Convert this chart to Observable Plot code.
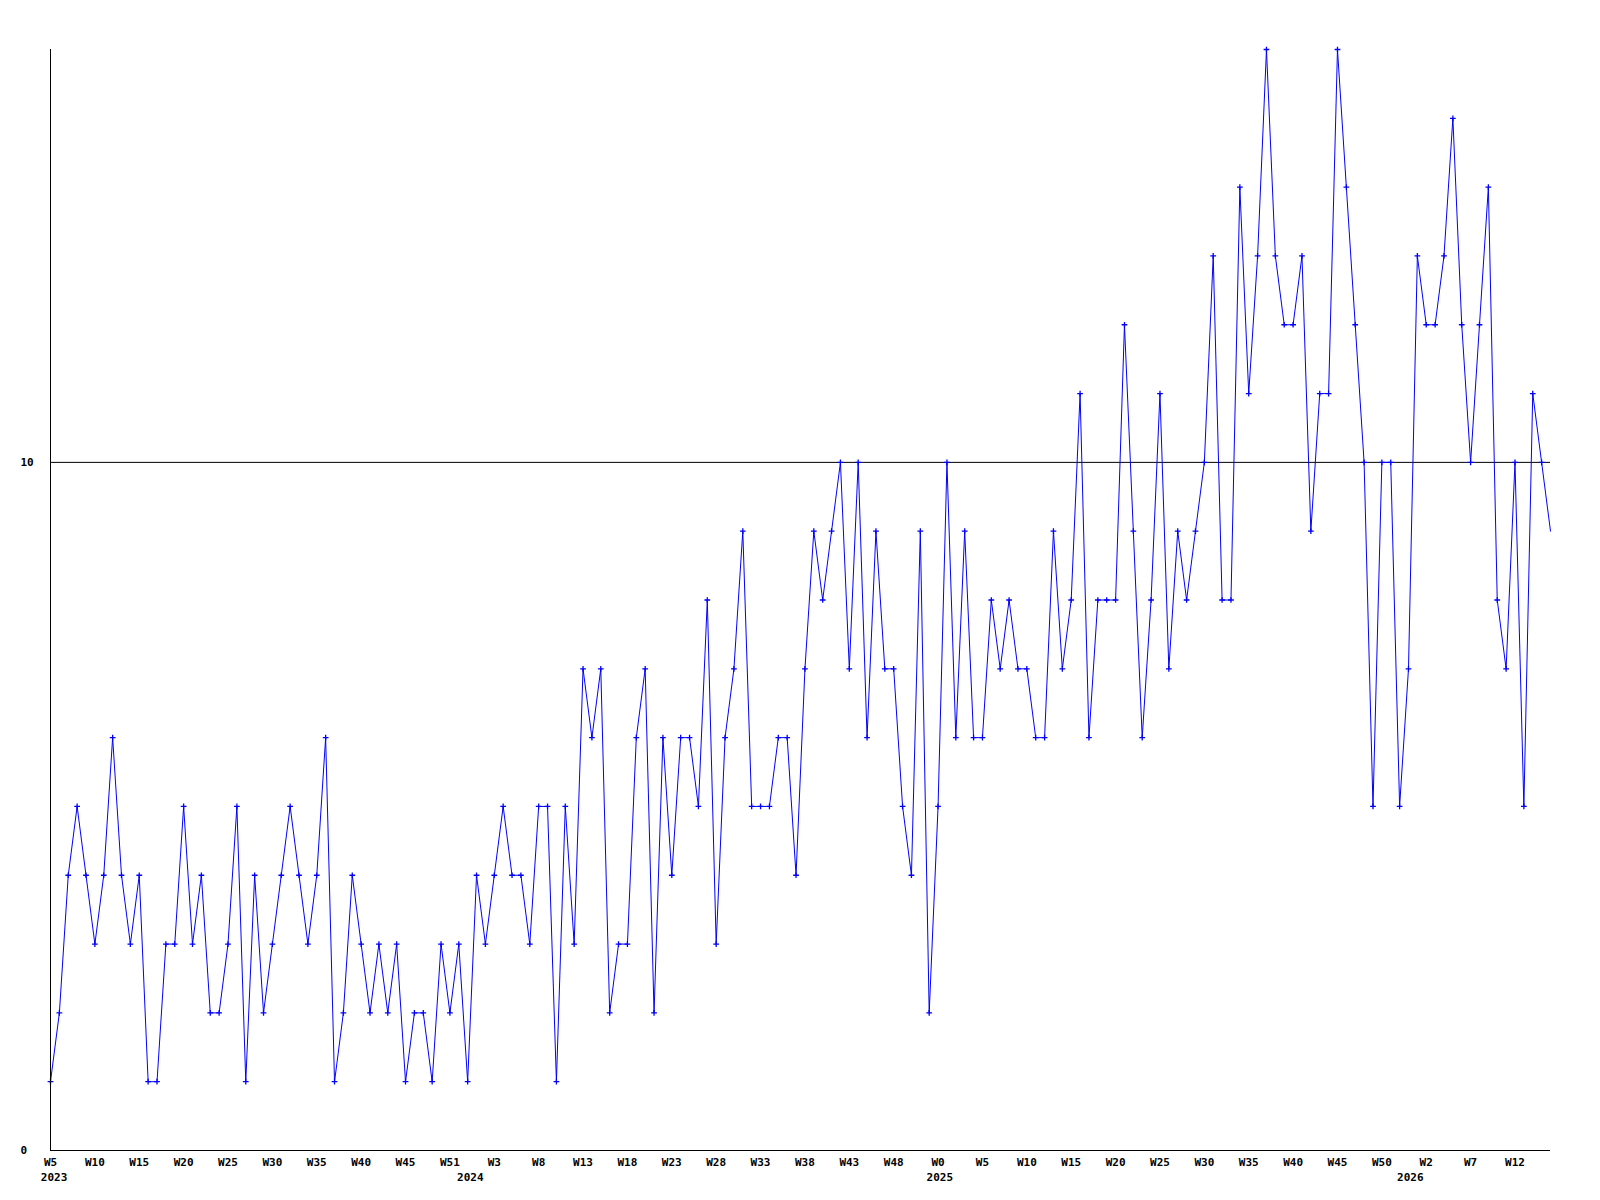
<!DOCTYPE html>
<html>
<head>
<meta charset="utf-8">
<script src="https://cdn.jsdelivr.net/npm/d3@7"></script>
<script src="https://cdn.jsdelivr.net/npm/@observablehq/plot@0.6"></script>
<style>
  html, body { margin: 0; padding: 0; background: #fff; }
  #chart svg { display: block; }
</style>
</head>
<body>
<div id="chart"></div>
<script>
// Weekly values, starting at W5 2023
const values = [
  1,2,4,5,4,3,4,6,4,3,
  4,1,1,3,3,5,3,4,2,2,
  3,5,1,4,2,3,4,5,4,3,
  4,6,1,2,4,3,2,3,2,3,
  1,2,2,1,3,2,3,1,4,3,
  4,5,4,4,3,5,5,1,5,3,
  7,6,7,2,3,3,6,7,2,6,
  4,6,6,5,8,3,6,7,9,5,
  5,5,6,6,4,7,9,8,9,10,
  7,10,6,9,7,7,5,4,9,2,
  5,10,6,9,6,6,8,7,8,7,
  7,6,6,9,7,8,11,6,8,8,
  8,12,9,6,8,11,7,9,8,9,
  10,13,8,8,14,11,13,16,13,12,
  12,13,9,11,11,16,14,12,10,5,
  10,10,5,7,13,12,12,13,15,12,
  10,12,14,8,7,10,5,11,10,9
];

// X tick labels (every 5th week)
const weekTickIndex = [0,5,10,15,20,25,30,35,40,45,50,55,60,65,70,75,80,85,90,95,100,105,110,115,120,125,130,135,140,145,150,155,160,165];
const weekTickLabels = ["W5","W10","W15","W20","W25","W30","W35","W40","W45","W51",
  "W3","W8","W13","W18","W23","W28","W33","W38","W43","W48",
  "W0","W5","W10","W15","W20","W25","W30","W35","W40","W45","W50",
  "W2","W7","W12"];

// Year labels and their position (in week index units)
const yearLabels = ["2023","2024","2025","2026"];
const yearIndex = [0.4, 47.3, 100.2, 153.2];

// Y tick labels
const yTicks = [0, 10];
const refLine = [10];

const data = values.map((v, i) => ({i, v}));
const weekTicks = weekTickIndex.map((i, k) => ({i, label: weekTickLabels[k]}));
const yearTicks = yearLabels.map((label, k) => ({i: yearIndex[k], label}));

const font = "'DejaVu Sans Mono', monospace";

const chart = Plot.plot({
  width: 1600,
  height: 1200,
  marginLeft: 50,
  marginRight: 50,
  marginTop: 49,
  marginBottom: 50,
  x: {type: "linear", domain: [0, values.length - 1], axis: null},
  y: {type: "linear", domain: [0, 16], axis: null},
  style: {fontFamily: font, background: "#fff"},
  marks: [
    Plot.ruleY(refLine, {stroke: "#000", strokeWidth: 1}),
    Plot.line(data, {x: "i", y: "v", stroke: "#0000ff", strokeWidth: 1}),
    Plot.dot(data.slice(0, -1), {x: "i", y: "v", symbol: "plus", r: 2, fill: "none", stroke: "#0000ff", strokeWidth: 1.3}),
    Plot.ruleX([0], {y1: 0, y2: 16, stroke: "#000", strokeWidth: 1}),
    Plot.ruleY([0], {stroke: "#000", strokeWidth: 1}),
    Plot.text(yTicks, {y: d => d, text: d => String(d), frameAnchor: "left", textAnchor: "start", dx: -30,
      fontSize: 11, fontWeight: "bold", fill: "#000"}),
    Plot.text(weekTicks, {x: "i", text: "label", frameAnchor: "bottom", dy: 12, lineAnchor: "middle",
      fontSize: 11, fontWeight: "bold", fill: "#000"}),
    Plot.text(yearTicks, {x: "i", text: "label", frameAnchor: "bottom", dy: 27, lineAnchor: "middle",
      fontSize: 11, fontWeight: "bold", fill: "#000"})
  ]
});
document.getElementById("chart").appendChild(chart);
</script>
</body>
</html>
